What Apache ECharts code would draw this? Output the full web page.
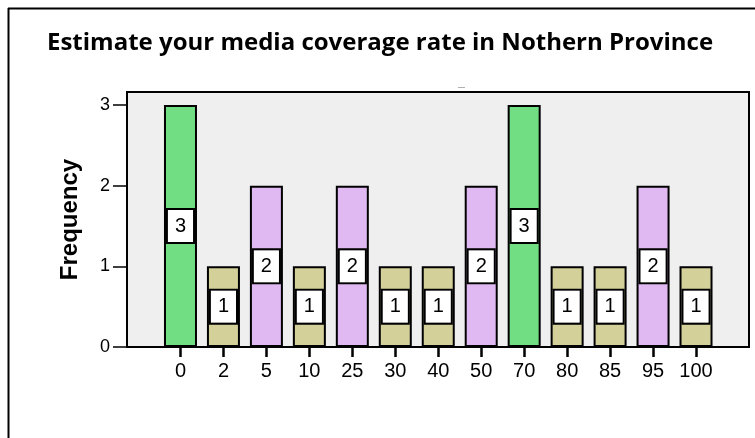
<!DOCTYPE html>
<html>
<head>
<meta charset="utf-8">
<script src="https://cdn.jsdelivr.net/npm/echarts@6/dist/echarts.min.js"></script>
<style>
  html, body { margin: 0; padding: 0; background: #fff; }
  #chart { width: 755px; height: 438px; }
</style>
</head>
<body>
<div id="chart"></div>
<script>
// Coverage-rate estimates (%) and how many respondents gave each one
const categories = ['0', '2', '5', '10', '25', '30', '40', '50', '70', '80', '85', '95', '100'];
const frequencies = [3, 1, 2, 1, 2, 1, 1, 2, 3, 1, 1, 2, 1];
const yTicks = [0, 1, 2, 3];

// Bar fill follows the count
const fillByCount = { 1: '#d4d09a', 2: '#e0b9f2', 3: '#72de84' };

const SANS = "'Liberation Sans', Arial, sans-serif";

const chart = echarts.init(document.getElementById('chart'), null, { renderer: 'canvas' });

const option = {
  backgroundColor: '#ffffff',
  animation: false,
  title: {
    text: 'Estimate your media coverage rate in Nothern Province',
    left: 42,
    top: 26,
    textStyle: { fontFamily: "'Open Sans', sans-serif", fontWeight: 'bold', fontSize: 24, color: '#000' }
  },
  graphic: [
    { type: 'line', shape: { x1: 8.5, y1: 8, x2: 8.5, y2: 438 }, style: { stroke: '#000', lineWidth: 2 } },
    { type: 'line', shape: { x1: 8, y1: 8.5, x2: 755, y2: 8.5 }, style: { stroke: '#000', lineWidth: 2 } },
    { type: 'line', shape: { x1: 458, y1: 87.5, x2: 465, y2: 87.5 }, style: { stroke: '#b0b0b0', lineWidth: 1 } }
  ],
  grid: [
    // frame of the plotting area
    { left: 127, right: 6, top: 92, bottom: 91, show: true, backgroundColor: '#efefef', borderColor: '#000', borderWidth: 2 },
    // bars
    { left: 159, right: 37.5, top: 105, bottom: 91 }
  ],
  xAxis: [
    { type: 'value', gridIndex: 0, show: false },
    {
      type: 'category', gridIndex: 1, data: categories,
      axisLine: { show: false },
      axisTick: { show: true, alignWithLabel: true, interval: 0, length: 10, lineStyle: { color: '#000', width: 2.5 } },
      axisLabel: { interval: 0, margin: 14, fontFamily: SANS, fontSize: 20, color: '#000' }
    }
  ],
  yAxis: [
    {
      type: 'value', gridIndex: 0, min: 0, max: 1,
      axisLine: { show: false }, axisTick: { show: false }, axisLabel: { show: false }, splitLine: { show: false },
      name: 'Frequency', nameLocation: 'middle', nameGap: 45,
      nameTextStyle: { fontFamily: SANS, fontWeight: 'bold', fontSize: 24, color: '#000' }
    },
    {
      type: 'value', gridIndex: 1, min: yTicks[0], max: yTicks[yTicks.length - 1], interval: 1,
      offset: 32,
      axisLine: { show: false },
      axisTick: { show: true, length: 14, lineStyle: { color: '#000', width: 1.5 } },
      axisLabel: { margin: 17, fontFamily: SANS, fontSize: 18, color: '#000' },
      splitLine: { show: false }
    }
  ],
  series: [{
    type: 'bar',
    xAxisIndex: 1,
    yAxisIndex: 1,
    barWidth: 33,
    data: frequencies.map(v => ({
      value: v,
      itemStyle: { color: fillByCount[v], borderColor: '#000', borderWidth: 2 }
    })),
    label: {
      show: true,
      position: 'inside',
      fontFamily: SANS,
      fontSize: 20,
      color: '#000',
      backgroundColor: '#fff',
      borderColor: '#000',
      borderWidth: 2,
      lineHeight: 20,
      padding: [6, 7]
    }
  }]
};

chart.setOption(option);
</script>
</body>
</html>
